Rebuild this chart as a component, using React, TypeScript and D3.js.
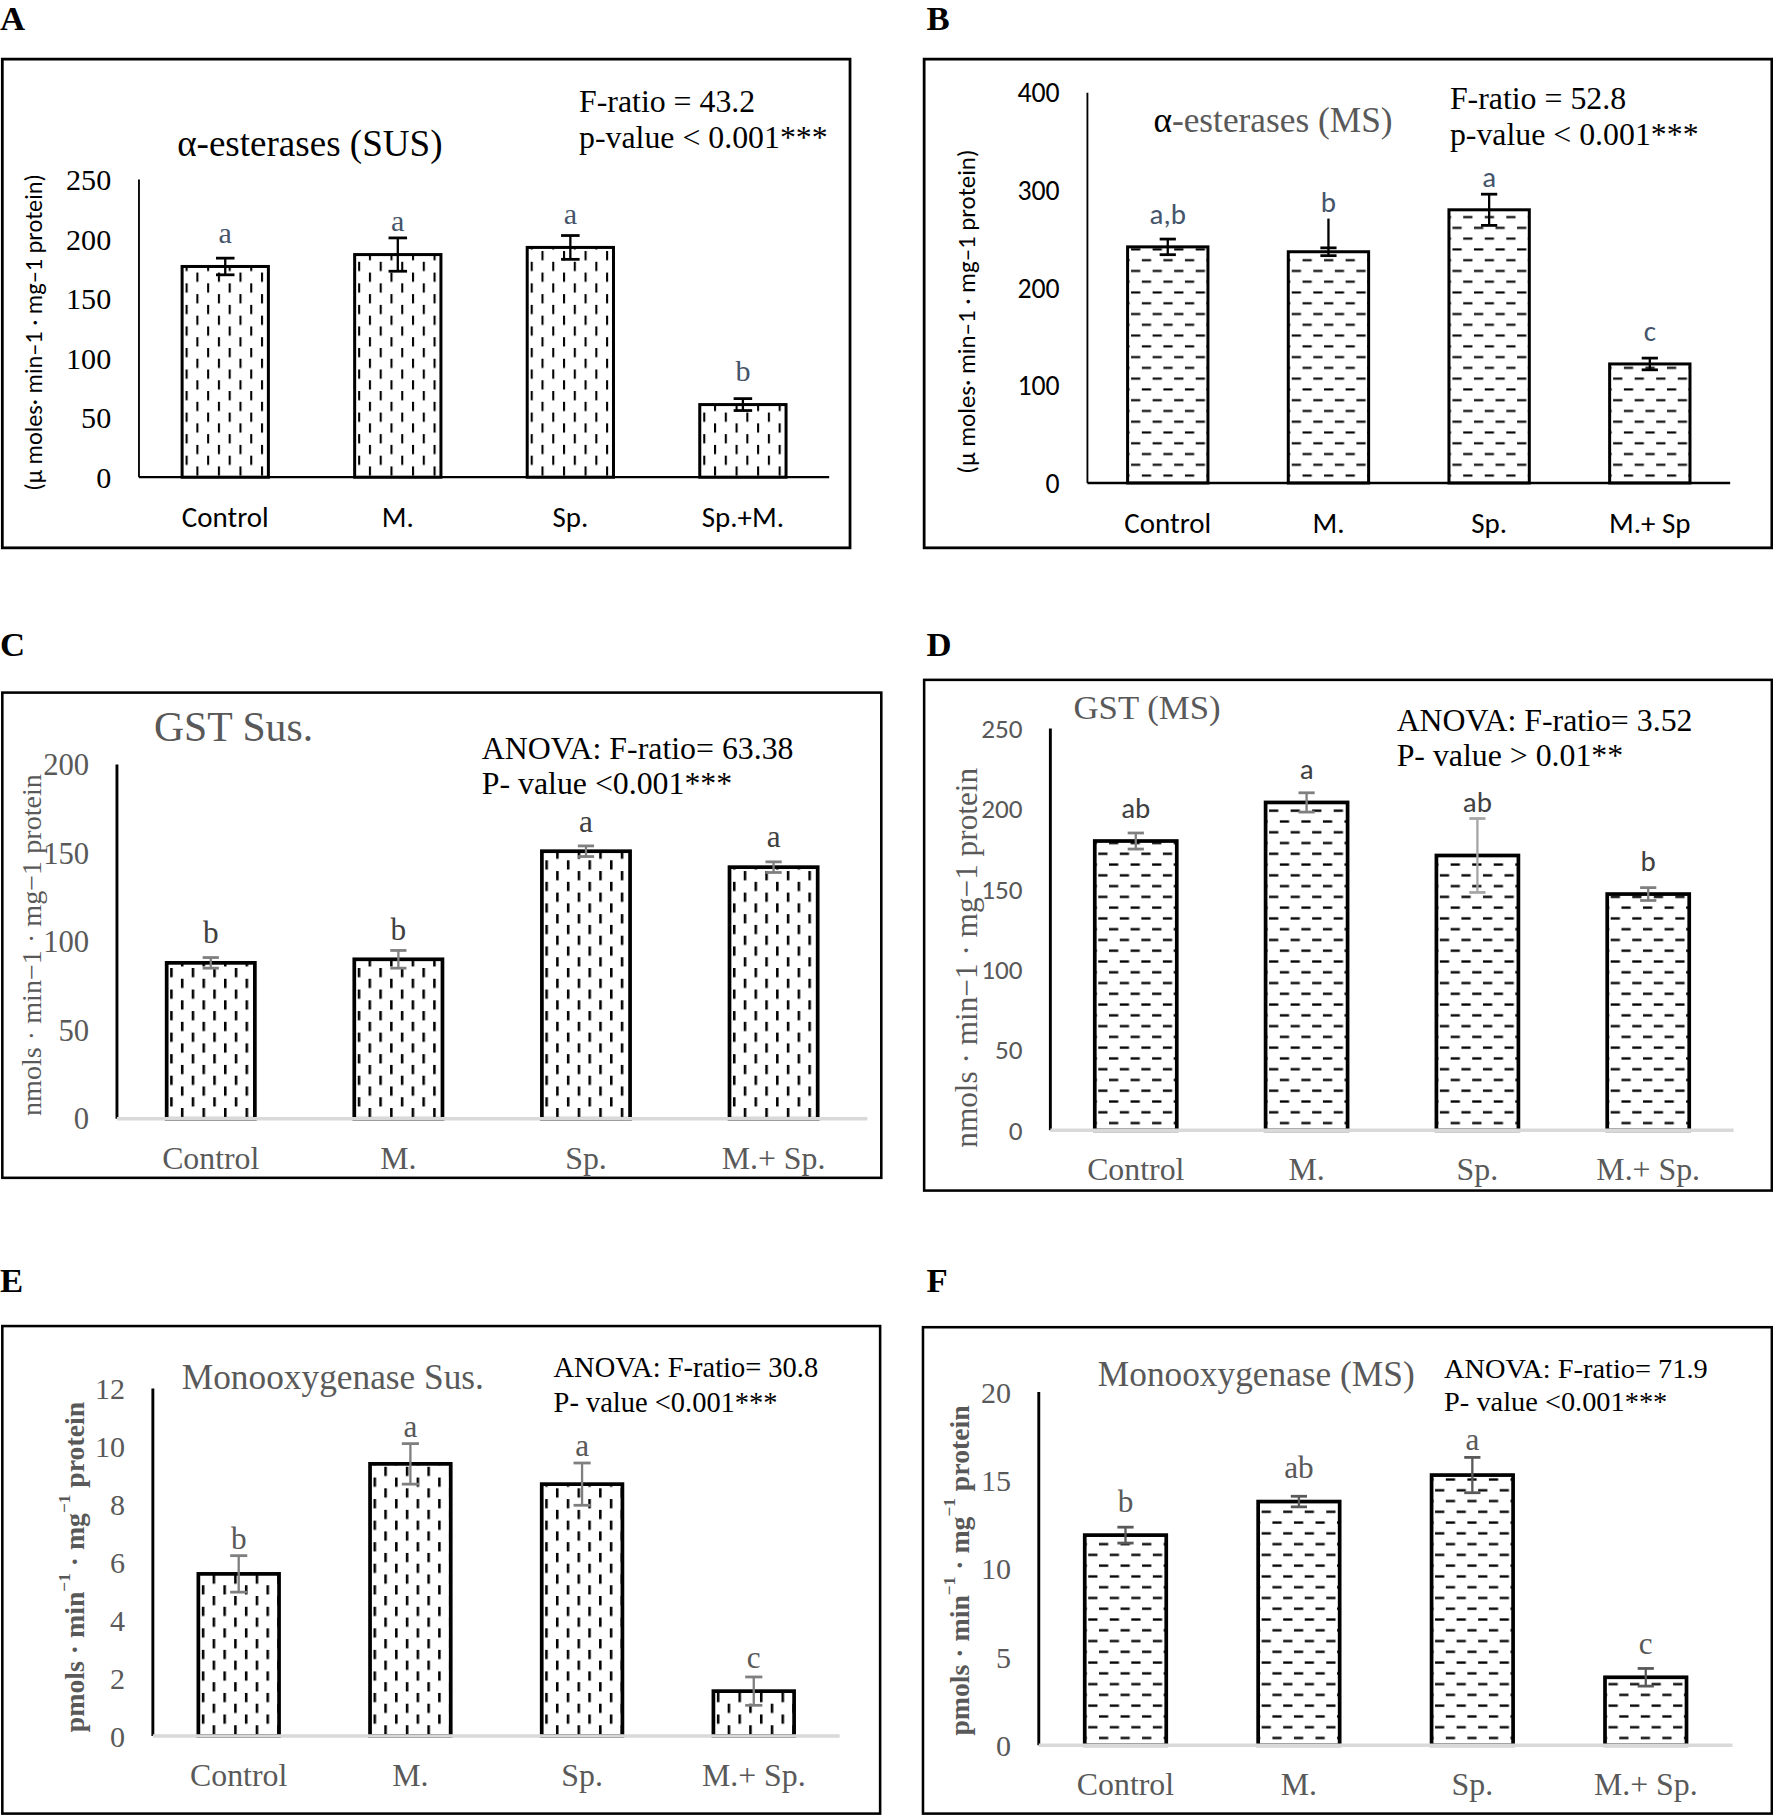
import * as d3 from "d3";

// ---------- data ----------
const groupsA = ["Control", "M.", "Sp.", "Sp.+M."];
const groupsB = ["Control", "M.", "Sp.", "M.+ Sp"];
const groupsCF = ["Control", "M.", "Sp.", "M.+ Sp."];

const esteraseSus = [177, 187, 193, 61];
const esteraseSusErr = [7, 14, 10, 5];
const esteraseSusLetters = ["a", "a", "a", "b"];
const ticksA = [0, 50, 100, 150, 200, 250];

const esteraseMs = [242, 237, 280, 122];
const esteraseMsErr = [8, 4, 16, 6];
const esteraseMsWhisker = [0, 34, 0, 0]; // extra uncapped line above M.
const esteraseMsLetters = ["a,b", "b", "a", "c"];
const ticksB = [0, 100, 200, 300, 400];

const gstSus = [88, 90, 151, 142];
const gstSusErr = [3, 5, 3, 3];
const gstSusLetters = ["b", "b", "a", "a"];
const ticksC = [0, 50, 100, 150, 200];

const gstMs = [180, 204, 171, 147];
const gstMsErr = [5, 6, 23, 4];
const gstMsLetters = ["ab", "a", "ab", "b"];
const ticksD = [0, 50, 100, 150, 200, 250];

const monoSus = [5.6, 9.4, 8.7, 1.55];
const monoSusErr = [0.63, 0.7, 0.73, 0.49];
const monoSusLetters = ["b", "a", "a", "c"];
const ticksE = [0, 2, 4, 6, 8, 10, 12];

const monoMs = [11.9, 13.8, 15.3, 3.85];
const monoMsErr = [0.45, 0.3, 1.0, 0.5];
const monoMsLetters = ["b", "ab", "a", "c"];
const ticksF = [0, 5, 10, 15, 20];

// ---------- styles ----------
const serif = "'Liberation Serif', 'Times New Roman', serif";
const sans = "Carlito, Lato, 'Liberation Sans', sans-serif";
const grey = "#595959";

type Seg = { t: string; sup?: boolean; color?: string };
type TextSpec = { segs: Seg[]; x: number; y: number; size: number; font: string; color: string; weight?: string };

type PanelSpec = {
  id: string;
  letter: string;
  letterPos: [number, number];
  box: [number, number, number, number];
  xRange: [number, number];
  yRange: [number, number];
  groups: string[];
  values: number[];
  err: number[];
  whisker?: number[];
  letters: string[];
  ticks: number[];
  barRatio: number;
  pattern: "v" | "h";
  dashW: number;
  barStroke: number;
  boxStroke: number;
  errColors: string[];
  capHalf: number;
  xAxisColor: string;
  xAxisWidth: number;
  yAxisWidth: number;
  title: TextSpec;
  stats: string[];
  statsX: number;
  statsY: number[];
  statsSize: number;
  yLabel: TextSpec;
  tickFont: string;
  tickSize: number;
  tickColor: string;
  catFont: string;
  catSize: number;
  catColor: string;
  letFont: string;
  letSize: number;
  letColor: string;
  letGap: number;
};

const segs = (s: string): Seg[] => [{ t: s }];
const supLabel: Seg[] = [
  { t: "pmols · min" },
  { t: "−1", sup: true },
  { t: " · mg" },
  { t: "−1", sup: true },
  { t: " protein" },
];

const panels: PanelSpec[] = [
  {
    id: "A", letter: "A", letterPos: [0, 26], box: [2, 51, 734, 473],
    xRange: [120, 716], yRange: [412, 155],
    groups: groupsA, values: esteraseSus, err: esteraseSusErr, letters: esteraseSusLetters, ticks: ticksA,
    barRatio: 0.5, pattern: "v", dashW: 1.8, barStroke: 2.6, boxStroke: 2.4,
    errColors: ["#000", "#000", "#000", "#000"], capHalf: 8,
    xAxisColor: "#000", xAxisWidth: 2, yAxisWidth: 1.6,
    title: { segs: segs("α-esterases (SUS)"), x: 153, y: 135, size: 32, font: serif, color: "#000" },
    stats: ["F-ratio = 43.2", "p-value < 0.001***"], statsX: 500, statsY: [97, 128], statsSize: 27.5,
    yLabel: { segs: segs("(µ moles· min–1 · mg–1 protein)"), x: 29, y: 287, size: 21, font: sans, color: "#000" },
    tickFont: serif, tickSize: 26, tickColor: "#000",
    catFont: sans, catSize: 25, catColor: "#000",
    letFont: serif, letSize: 26, letColor: "#44546A", letGap: 20,
  },
  {
    id: "B", letter: "B", letterPos: [800, 26], box: [798, 51, 1530, 473],
    xRange: [939, 1494], yRange: [417, 80],
    groups: groupsB, values: esteraseMs, err: esteraseMsErr, whisker: esteraseMsWhisker, letters: esteraseMsLetters, ticks: ticksB,
    barRatio: 0.5, pattern: "h", dashW: 1.8, barStroke: 2.6, boxStroke: 2.4,
    errColors: ["#000", "#000", "#000", "#000"], capHalf: 7,
    xAxisColor: "#000", xAxisWidth: 2, yAxisWidth: 1.6,
    title: { segs: [{ t: "α", color: "#000" }, { t: "-esterases (MS)" }], x: 996, y: 114, size: 30.5, font: serif, color: grey },
    stats: ["F-ratio = 52.8", "p-value < 0.001***"], statsX: 1252, statsY: [94, 125], statsSize: 27.5,
    yLabel: { segs: segs("(µ moles· min–1 · mg–1 protein)"), x: 834, y: 269, size: 21.5, font: sans, color: "#000" },
    tickFont: sans, tickSize: 24, tickColor: "#000",
    catFont: sans, catSize: 25, catColor: "#000",
    letFont: sans, letSize: 25, letColor: "#44546A", letGap: 20,
  },
  {
    id: "C", letter: "C", letterPos: [0, 566], box: [2, 598, 761, 1017],
    xRange: [101, 749], yRange: [966, 660],
    groups: groupsCF, values: gstSus, err: gstSusErr, letters: gstSusLetters, ticks: ticksC,
    barRatio: 0.47, pattern: "v", dashW: 2.2, barStroke: 3.2, boxStroke: 2.2,
    errColors: ["#7f7f7f", "#7f7f7f", "#7f7f7f", "#7f7f7f"], capHalf: 7,
    xAxisColor: "#d9d9d9", xAxisWidth: 3, yAxisWidth: 2.5,
    title: { segs: segs("GST Sus."), x: 133, y: 640, size: 36, font: serif, color: grey },
    stats: ["ANOVA: F-ratio= 63.38", "P- value <0.001***"], statsX: 416, statsY: [655, 686], statsSize: 27.5,
    yLabel: { segs: segs("nmols · min−1 · mg−1 protein"), x: 27, y: 816, size: 24.3, font: serif, color: grey },
    tickFont: serif, tickSize: 26.5, tickColor: grey,
    catFont: serif, catSize: 27.5, catColor: grey,
    letFont: serif, letSize: 27, letColor: "#404040", letGap: 17,
  },
  {
    id: "D", letter: "D", letterPos: [800, 566], box: [798, 587, 1530, 1028],
    xRange: [907, 1497], yRange: [976, 629],
    groups: groupsCF, values: gstMs, err: gstMsErr, letters: gstMsLetters, ticks: ticksD,
    barRatio: 0.48, pattern: "h", dashW: 2.0, barStroke: 3.2, boxStroke: 2.2,
    errColors: ["#7f7f7f", "#7f7f7f", "#a6a6a6", "#7f7f7f"], capHalf: 7,
    xAxisColor: "#d9d9d9", xAxisWidth: 3, yAxisWidth: 2.5,
    title: { segs: segs("GST (MS)"), x: 927, y: 621, size: 30, font: serif, color: grey },
    stats: ["ANOVA: F-ratio= 3.52", "P- value > 0.01**"], statsX: 1206, statsY: [631, 661], statsSize: 27.5,
    yLabel: { segs: segs("nmols · min−1 · mg−1 protein"), x: 834, y: 827, size: 27, font: serif, color: grey },
    tickFont: sans, tickSize: 23.5, tickColor: grey,
    catFont: serif, catSize: 27.5, catColor: grey,
    letFont: sans, letSize: 25, letColor: "#404040", letGap: 20,
  },
  {
    id: "E", letter: "E", letterPos: [0, 1116], box: [2, 1145, 760, 1566],
    xRange: [132, 725], yRange: [1499, 1199],
    groups: groupsCF, values: monoSus, err: monoSusErr, letters: monoSusLetters, ticks: ticksE,
    barRatio: 0.47, pattern: "v", dashW: 2.2, barStroke: 3.2, boxStroke: 2.2,
    errColors: ["#7f7f7f", "#7f7f7f", "#7f7f7f", "#7f7f7f"], capHalf: 7.4,
    xAxisColor: "#d9d9d9", xAxisWidth: 3, yAxisWidth: 2.5,
    title: { segs: segs("Monooxygenase Sus."), x: 157, y: 1199, size: 30.5, font: serif, color: grey },
    stats: ["ANOVA: F-ratio= 30.8", "P- value <0.001***"], statsX: 478, statsY: [1189, 1219.5], statsSize: 24.6,
    yLabel: { segs: supLabel, x: 64, y: 1353, size: 24, font: serif, color: grey, weight: "bold" },
    tickFont: serif, tickSize: 26, tickColor: grey,
    catFont: serif, catSize: 27.5, catColor: grey,
    letFont: serif, letSize: 27, letColor: grey, letGap: 20,
  },
  {
    id: "F", letter: "F", letterPos: [800, 1116], box: [797, 1146, 1530, 1566],
    xRange: [897, 1496], yRange: [1507, 1202],
    groups: groupsCF, values: monoMs, err: monoMsErr, letters: monoMsLetters, ticks: ticksF,
    barRatio: 0.47, pattern: "h", dashW: 2.0, barStroke: 3.2, boxStroke: 2.2,
    errColors: [grey, grey, grey, grey], capHalf: 7,
    xAxisColor: "#d9d9d9", xAxisWidth: 3, yAxisWidth: 2.5,
    title: { segs: segs("Monooxygenase (MS)"), x: 948, y: 1197, size: 30.5, font: serif, color: grey },
    stats: ["ANOVA: F-ratio= 71.9", "P- value <0.001***"], statsX: 1247, statsY: [1190, 1218], statsSize: 24.5,
    yLabel: { segs: supLabel, x: 828, y: 1356, size: 24, font: serif, color: grey, weight: "bold" },
    tickFont: serif, tickSize: 26, tickColor: grey,
    catFont: serif, catSize: 27.5, catColor: grey,
    letFont: serif, letSize: 27, letColor: grey, letGap: 20,
  },
];

const renderSegs = (list: Seg[]) =>
  list.map((sg, i) =>
    sg.sup ? (
      <tspan key={i} baselineShift="super" fontSize="0.62em">{sg.t}</tspan>
    ) : (
      <tspan key={i} fill={sg.color}>{sg.t}</tspan>
    )
  );

function Panel({ s }: { s: PanelSpec }) {
  const x = d3
    .scaleBand<string>()
    .domain(s.groups)
    .range(s.xRange)
    .paddingInner(1 - s.barRatio)
    .paddingOuter((1 - s.barRatio) / 2);
  const y = d3
    .scaleLinear()
    .domain([0, s.ticks[s.ticks.length - 1]])
    .range(s.yRange);
  const bw = x.bandwidth();
  const base = y(0);
  const [bx1, by1, bx2, by2] = s.box;

  // staggered dash pattern cell
  const cell = 18.6;
  const dashLen = 8;

  return (
    <g>
      <defs>
        {s.groups.map((g, i) => (
          <pattern
            key={g}
            id={`pat-${s.id}-${i}`}
            patternUnits="userSpaceOnUse"
            x={(x(g) ?? 0) + 3}
            y={base}
            width={cell}
            height={cell}
          >
            {s.pattern === "v" ? (
              <>
                <rect x={0} y={0} width={s.dashW} height={dashLen} fill="#000" />
                <rect x={cell / 2} y={cell / 2} width={s.dashW} height={dashLen} fill="#000" />
              </>
            ) : (
              <>
                <rect x={0} y={2} width={dashLen} height={s.dashW} fill="#000" />
                <rect x={cell / 2} y={2 + cell / 2} width={dashLen} height={s.dashW} fill="#000" />
              </>
            )}
          </pattern>
        ))}
      </defs>

      <text x={s.letterPos[0]} y={s.letterPos[1]} fontFamily={serif} fontWeight="bold" fontSize={30}>
        {s.letter}
      </text>
      <rect x={bx1} y={by1} width={bx2 - bx1} height={by2 - by1} fill="none" stroke="#000" strokeWidth={s.boxStroke} />

      {/* title and statistics */}
      <text x={s.title.x} y={s.title.y} fontFamily={s.title.font} fontSize={s.title.size} fill={s.title.color}>
        {renderSegs(s.title.segs)}
      </text>
      {s.stats.map((line, i) => (
        <text key={line} x={s.statsX} y={s.statsY[i]} fontFamily={serif} fontSize={s.statsSize} fill="#000">
          {line}
        </text>
      ))}

      {/* y label */}
      <text
        transform={`translate(${s.yLabel.x},${s.yLabel.y}) rotate(-90)`}
        textAnchor="middle"
        dominantBaseline="central"
        fontFamily={s.yLabel.font}
        fontSize={s.yLabel.size}
        fontWeight={s.yLabel.weight ?? "normal"}
        fill={s.yLabel.color}
      >
        {renderSegs(s.yLabel.segs)}
      </text>

      {/* y tick labels */}
      {s.ticks.map((t) => (
        <text
          key={t}
          x={s.xRange[0] - 24}
          y={y(t)}
          dy="0.35em"
          textAnchor="end"
          fontFamily={s.tickFont}
          fontSize={s.tickSize}
          fill={s.tickColor}
        >
          {t}
        </text>
      ))}

      {/* bars */}
      {s.groups.map((g, i) => {
        const bx = x(g) ?? 0;
        const top = y(s.values[i]);
        return (
          <rect
            key={g}
            x={bx}
            y={top}
            width={bw}
            height={base - top}
            fill={`url(#pat-${s.id}-${i})`}
            stroke="#000"
            strokeWidth={s.barStroke}
          />
        );
      })}

      {/* axes */}
      <line x1={s.xRange[0]} x2={s.xRange[0]} y1={base} y2={s.yRange[1]} stroke="#000" strokeWidth={s.yAxisWidth} />
      <line x1={s.xRange[0]} x2={s.xRange[1]} y1={base} y2={base} stroke={s.xAxisColor} strokeWidth={s.xAxisWidth} />

      {/* error bars */}
      {s.groups.map((g, i) => {
        const cx = (x(g) ?? 0) + bw / 2;
        const v = s.values[i];
        const e = s.err[i];
        const w = s.whisker ? s.whisker[i] : 0;
        const col = s.errColors[i];
        return (
          <g key={g} stroke={col} strokeWidth={2}>
            <line x1={cx} x2={cx} y1={y(v - e)} y2={y(v + Math.max(e, w))} />
            <line x1={cx - s.capHalf} x2={cx + s.capHalf} y1={y(v - e)} y2={y(v - e)} strokeWidth={2.4} />
            <line x1={cx - s.capHalf} x2={cx + s.capHalf} y1={y(v + e)} y2={y(v + e)} strokeWidth={2.4} />
          </g>
        );
      })}

      {/* significance letters */}
      {s.groups.map((g, i) => {
        const cx = (x(g) ?? 0) + bw / 2;
        const v = s.values[i];
        const w = s.whisker ? s.whisker[i] : 0;
        const yy = Math.min(y(v) - s.letGap, y(v + Math.max(s.err[i], w)) - 6);
        return (
          <text key={g} x={cx} y={yy} textAnchor="middle" fontFamily={s.letFont} fontSize={s.letSize} fill={s.letColor}>
            {s.letters[i]}
          </text>
        );
      })}

      {/* category labels */}
      {s.groups.map((g) => (
        <text
          key={g}
          x={(x(g) ?? 0) + bw / 2}
          y={base + 43}
          textAnchor="middle"
          fontFamily={s.catFont}
          fontSize={s.catSize}
          fill={s.catColor}
        >
          {g}
        </text>
      ))}
    </g>
  );
}

export default function App() {
  return (
    <>
      <style>{"body{margin:0;background:#fff}"}</style>
      <svg width={1773} height={1816} viewBox="0 0 1531 1568" style={{ display: "block", background: "#fff" }}>
        <rect x={0} y={0} width={1531} height={1568} fill="#fff" />
        {panels.map((p) => (
          <Panel key={p.id} s={p} />
        ))}
      </svg>
    </>
  );
}
